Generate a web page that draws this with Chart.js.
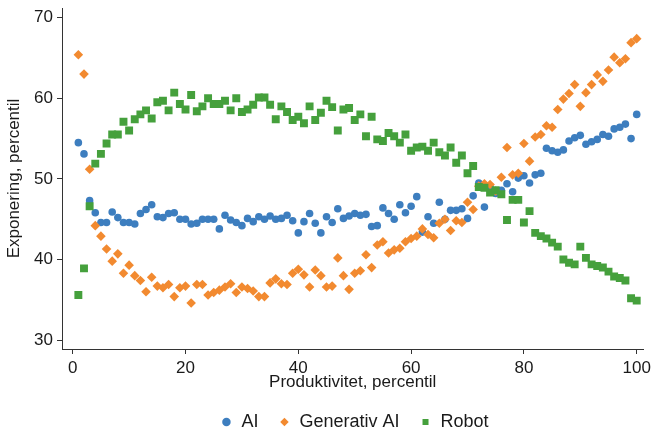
<!DOCTYPE html>
<html>
<head>
<meta charset="utf-8">
<script src="https://cdn.jsdelivr.net/npm/chart.js@4.4.0/dist/chart.umd.min.js"></script>
<style>
  html, body { margin: 0; padding: 0; background: #fff; }
</style>
</head>
<body>
<canvas id="myChart" width="655" height="430"></canvas>
<script>
// productivity percentile (x) for every point
const percentiles = [
  1, 2, 3, 4, 5, 6, 7, 8, 9, 10, 11, 12, 13, 14, 15, 16, 17, 18, 19, 20,
  21, 22, 23, 24, 25, 26, 27, 28, 29, 30, 31, 32, 33, 34, 35, 36, 37, 38, 39, 40,
  41, 42, 43, 44, 45, 46, 47, 48, 49, 50, 51, 52, 53, 54, 55, 56, 57, 58, 59, 60,
  61, 62, 63, 64, 65, 66, 67, 68, 69, 70, 71, 72, 73, 74, 75, 76, 77, 78, 79, 80,
  81, 82, 83, 84, 85, 86, 87, 88, 89, 90, 91, 92, 93, 94, 95, 96, 97, 98, 99, 100
];

// exposure percentile per series
const aiValues = [
  54.5, 53.1, 47.3, 45.8, 44.6, 44.6, 45.9, 45.2, 44.6, 44.6, 44.4, 45.7, 46.2, 46.8, 45.3, 45.2, 45.7, 45.8, 45.0, 45.0,
  44.4, 44.5, 45.0, 45.0, 45.0, 43.8, 45.5, 44.9, 44.6, 44.2, 45.1, 44.7, 45.3, 45.0, 45.4, 45.0, 45.1, 45.5, 44.8, 43.3,
  44.7, 45.7, 44.5, 43.3, 45.3, 44.6, 46.3, 45.1, 45.4, 45.7, 45.5, 45.6, 44.1, 44.2, 46.4, 45.7, 45.0, 46.8, 45.8, 46.6,
  47.8, 43.4, 45.3, 44.5, 47.1, 45.0, 46.1, 46.1, 46.3, 45.1, 47.9, 49.5, 46.5, 49.0, 48.2, 48.6, 49.4, 48.4, 50.1, 50.4,
  49.5, 50.5, 50.7, 53.8, 53.5, 53.3, 53.6, 54.7, 55.1, 55.4, 54.3, 54.6, 54.9, 55.5, 55.3, 56.2, 56.4, 56.8, 55.0, 58.0
];
const genAiValues = [
  65.4, 63.0, 51.2, 44.2, 42.9, 41.3, 39.8, 40.7, 38.3, 39.3, 38.0, 37.4, 36.0, 37.8, 36.7, 36.5, 36.9, 35.4, 36.5, 36.7,
  34.6, 36.9, 36.9, 35.6, 35.9, 36.2, 36.6, 37.0, 35.9, 36.6, 36.4, 36.1, 35.4, 35.4, 37.1, 37.6, 37.0, 36.9, 38.3, 38.8,
  38.1, 36.6, 38.7, 38.0, 36.6, 36.7, 40.2, 38.0, 36.3, 38.3, 38.6, 40.6, 39.0, 41.8, 42.2, 40.8, 41.2, 41.4, 42.2, 42.6,
  42.9, 43.8, 43.1, 42.7, 44.5, 45.0, 43.6, 44.8, 44.6, 47.1, 46.2, 49.1, 49.4, 49.3, 48.5, 50.2, 53.9, 50.5, 50.7, 54.4,
  52.2, 55.2, 55.5, 56.6, 56.4, 58.6, 59.9, 60.6, 61.7, 59.0, 60.7, 61.7, 62.9, 62.1, 63.5, 65.1, 64.4, 64.9, 66.9, 67.4
];
const robotValues = [
  35.6, 38.9, 46.6, 51.9, 53.1, 54.4, 55.5, 55.5, 57.1, 56.0, 57.4, 58.0, 58.5, 57.5, 59.5, 59.7, 58.5, 60.7, 59.3, 58.6,
  60.4, 58.4, 59.0, 60.0, 59.3, 59.3, 59.7, 58.5, 60.0, 58.3, 58.6, 59.2, 60.1, 60.1, 59.2, 57.4, 59.0, 58.3, 57.3, 57.7,
  56.9, 59.0, 57.3, 58.2, 59.7, 58.9, 56.0, 58.6, 58.8, 57.3, 58.0, 55.3, 57.7, 54.9, 54.7, 55.7, 55.3, 54.5, 55.5, 53.5,
  53.9, 54.0, 53.5, 54.5, 53.3, 52.9, 53.9, 52.0, 52.9, 50.7, 51.6, 49.0, 48.9, 48.3, 48.6, 48.1, 44.9, 47.4, 47.4, 44.6,
  46.0, 43.3, 42.9, 42.6, 42.1, 41.6, 40.0, 39.6, 39.4, 41.6, 40.2, 39.4, 39.2, 39.0, 38.5, 37.9, 37.7, 37.4, 35.2, 34.9
];

const xTicks = [0, 20, 40, 60, 80, 100];
const yTicks = [30, 40, 50, 60, 70];

const FONT = "'Liberation Sans', Arial, sans-serif";
const TEXT = '#1a1a1a';

function points(values) {
  return values.map((v, i) => ({ x: percentiles[i], y: v }));
}

// center the legend row under the plot area instead of the whole canvas
const legendShift = {
  id: 'legendShift',
  afterLayout(chart) {
    chart.legend.left += 32;
    chart.legend.right += 32;
  }
};

const ctx = document.getElementById('myChart').getContext('2d');
const myChart = new Chart(ctx, {
  type: 'scatter',
  data: {
    datasets: [{
      label: 'AI',
      data: points(aiValues),
      pointStyle: 'circle',
      pointRadius: 3.8,
      backgroundColor: '#3d7ebf',
      borderWidth: 0,
      order: 3
    }, {
      label: 'Generativ AI',
      data: points(genAiValues),
      pointStyle: 'rectRot',
      pointRadius: 4.8,
      backgroundColor: '#f28a30',
      borderWidth: 0,
      order: 2
    }, {
      label: 'Robot',
      data: points(robotValues),
      pointStyle: 'rect',
      pointRadius: 5.6,
      backgroundColor: '#45a03c',
      borderWidth: 0,
      order: 1
    }]
  },
  plugins: [legendShift],
  options: {
    responsive: false,
    animation: false,
    // negative bottom padding pulls the legend row down near the canvas edge
    layout: {
      padding: { left: 0, right: 10, top: 8, bottom: -11 }
    },
    plugins: {
      tooltip: { enabled: false },
      legend: {
        position: 'bottom',
        labels: {
          usePointStyle: true,
          boxWidth: 12,
          boxHeight: 6,
          padding: 20,
          color: TEXT,
          font: { family: FONT, size: 18 },
          sort: (a, b) => a.datasetIndex - b.datasetIndex
        }
      }
    },
    scales: {
      x: {
        type: 'linear',
        min: -1.9,
        max: 101.2,
        afterBuildTicks: axis => { axis.ticks = xTicks.map(v => ({ value: v })); },
        afterFit: axis => { axis.height = 44; },
        ticks: { color: TEXT, padding: 4, maxRotation: 0, font: { family: FONT, size: 17 } },
        grid: { drawOnChartArea: false, tickLength: 5, color: '#333' },
        border: { color: '#333' },
        title: {
          display: true,
          text: 'Produktivitet, percentil',
          color: TEXT,
          padding: { top: 0, bottom: 0 },
          font: { family: FONT, size: 17 }
        }
      },
      y: {
        min: 28.9,
        max: 71.2,
        afterBuildTicks: axis => { axis.ticks = yTicks.map(v => ({ value: v })); },
        afterFit: axis => { axis.width = 62; },
        // small lineHeight keeps the top label from pushing the plot area down
        ticks: { color: TEXT, padding: 4, font: { family: FONT, size: 17, lineHeight: 0.4 } },
        grid: { drawOnChartArea: false, tickLength: 5, color: '#333' },
        border: { color: '#333' },
        title: {
          display: true,
          text: 'Exponering, percentil',
          color: TEXT,
          padding: { top: 4, bottom: 0 },
          font: { family: FONT, size: 17 }
        }
      }
    }
  }
});
</script>
</body>
</html>
